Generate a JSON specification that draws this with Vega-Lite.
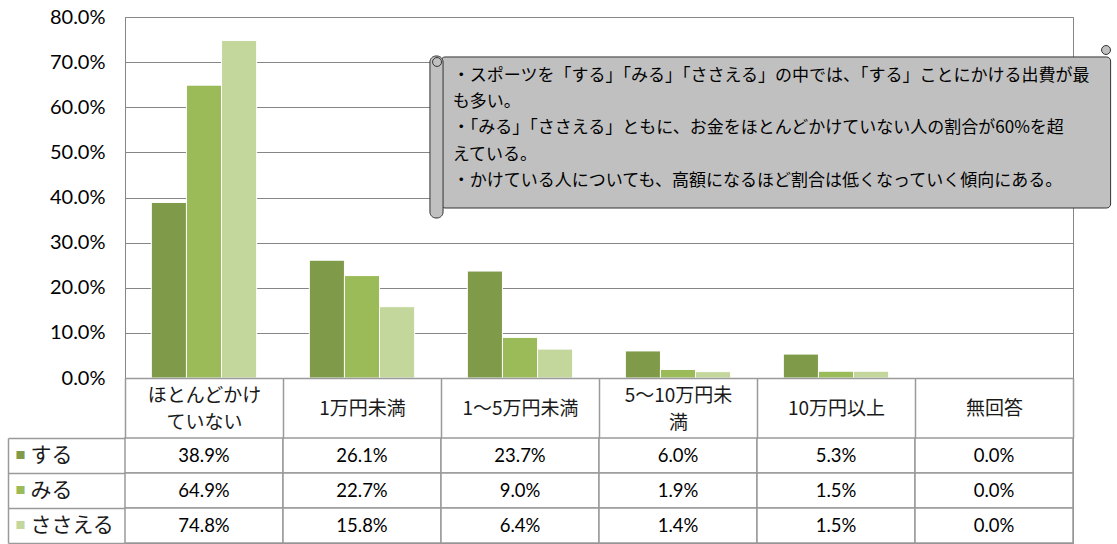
{
  "$schema": "https://vega.github.io/schema/vega-lite/v6.json",
  "padding": {"left": 6, "top": 6, "right": 0, "bottom": 0},
  "background": "white",
  "datasets": {
    "survey": [
      {"category": "ほとんどかけていない", "series": "する", "value": 0.389},
      {"category": "ほとんどかけていない", "series": "みる", "value": 0.649},
      {"category": "ほとんどかけていない", "series": "ささえる", "value": 0.748},
      {"category": "1万円未満", "series": "する", "value": 0.261},
      {"category": "1万円未満", "series": "みる", "value": 0.227},
      {"category": "1万円未満", "series": "ささえる", "value": 0.158},
      {"category": "1～5万円未満", "series": "する", "value": 0.237},
      {"category": "1～5万円未満", "series": "みる", "value": 0.090},
      {"category": "1～5万円未満", "series": "ささえる", "value": 0.064},
      {"category": "5～10万円未満", "series": "する", "value": 0.060},
      {"category": "5～10万円未満", "series": "みる", "value": 0.019},
      {"category": "5～10万円未満", "series": "ささえる", "value": 0.014},
      {"category": "10万円以上", "series": "する", "value": 0.053},
      {"category": "10万円以上", "series": "みる", "value": 0.015},
      {"category": "10万円以上", "series": "ささえる", "value": 0.015},
      {"category": "無回答", "series": "する", "value": 0.0},
      {"category": "無回答", "series": "みる", "value": 0.0},
      {"category": "無回答", "series": "ささえる", "value": 0.0}
    ],
    "note": [
      {"note": "・スポーツを「する」「みる」「ささえる」の中では、「する」ことにかける出費が最\nも多い。\n・「みる」「ささえる」ともに、お金をほとんどかけていない人の割合が60%を超\nえている。\n・かけている人についても、高額になるほど割合は低くなっていく傾向にある。"}
    ]
  },
  "spacing": 60,
  "bounds": "flush",
  "vconcat": [
    {
      "width": 948,
      "height": 361,
      "layer": [
        {
          "data": {"name": "survey"},
          "mark": {"type": "bar", "stroke": "white", "strokeWidth": 1},
          "encoding": {
            "x": {
              "field": "category", "type": "nominal",
              "sort": ["ほとんどかけていない", "1万円未満", "1～5万円未満", "5～10万円未満", "10万円以上", "無回答"],
              "scale": {"paddingInner": 0, "paddingOuter": 0},
              "axis": {
                "title": null, "orient": "bottom", "labelAngle": 0, "zindex": 1,
                "domain": true, "domainColor": "#9A9A9A", "domainWidth": 1.5,
                "ticks": true, "tickBand": "extent", "tickSize": 60, "tickColor": "#9A9A9A", "tickWidth": 1.5,
                "labelFont": "Noto Sans CJK JP", "labelFontSize": 19, "labelColor": "#1A1A1A",
                "labelBaseline": "middle", "labelLineHeight": 27.6,
                "labelPadding": {"condition": {"test": "datum.value === 'ほとんどかけていない' || datum.value === '5～10万円未満'", "value": -43}, "value": -30},
                "labelLimit": 300, "labelOverlap": false,
                "labelExpr": "datum.value === 'ほとんどかけていない' ? ['ほとんどかけ', 'ていない'] : datum.value === '5～10万円未満' ? ['5～10万円未', '満'] : datum.label"
              }
            },
            "xOffset": {
              "field": "series", "type": "nominal", "sort": ["する", "みる", "ささえる"],
              "scale": {"paddingInner": 0, "paddingOuter": 0.75}
            },
            "y": {
              "field": "value", "type": "quantitative",
              "scale": {"domain": [0, 0.8], "nice": false},
              "axis": {
                "title": null, "format": ".1%", "values": [0, 0.1, 0.2, 0.3, 0.4, 0.5, 0.6, 0.7, 0.8],
                "grid": true, "gridColor": "#868686", "gridWidth": 1,
                "domain": true, "domainColor": "#868686", "domainWidth": 1,
                "ticks": false, "labelPadding": 20,
                "labelFont": "Lato", "labelFontSize": 20, "labelColor": "#000000"
              }
            },
            "color": {
              "field": "series", "type": "nominal",
              "scale": {"domain": ["する", "みる", "ささえる"], "range": ["#7F9A48", "#9BBB59", "#C3D69B"]},
              "legend": null
            }
          }
        },
        {
          "data": {"values": [{}]},
          "mark": {"type": "rect", "fill": "#C0C0C0", "stroke": "#333333", "strokeWidth": 1, "cornerRadius": 4},
          "encoding": {
            "x": {"datum": 2.0, "type": "quantitative", "scale": {"domain": [0, 6], "nice": false, "zero": false}, "axis": null},
            "x2": {"datum": 6.238},
            "y": {"datum": 0.7114, "type": "quantitative"},
            "y2": {"datum": 0.3767}
          }
        },
        {
          "data": {"values": [{}]},
          "mark": {"type": "rect", "fill": "#C0C0C0", "stroke": "#333333", "strokeWidth": 1, "cornerRadius": 6},
          "encoding": {
            "x": {"datum": 1.93, "type": "quantitative", "scale": {"domain": [0, 6], "nice": false, "zero": false}, "axis": null},
            "x2": {"datum": 2.013},
            "y": {"datum": 0.7136, "type": "quantitative"},
            "y2": {"datum": 0.3546}
          }
        },
        {
          "data": {"values": [{}]},
          "mark": {"type": "point", "shape": "circle", "filled": true, "fill": "#C0C0C0", "stroke": "#333333", "strokeWidth": 1, "size": 80, "opacity": 1},
          "encoding": {
            "x": {"datum": 1.975, "type": "quantitative", "scale": {"domain": [0, 6], "nice": false, "zero": false}, "axis": null},
            "y": {"datum": 0.7003, "type": "quantitative"}
          }
        },
        {
          "data": {"values": [{}]},
          "mark": {"type": "point", "shape": "circle", "filled": true, "fill": "#C0C0C0", "stroke": "#333333", "strokeWidth": 1, "size": 80, "opacity": 1},
          "encoding": {
            "x": {"datum": 6.209, "type": "quantitative", "scale": {"domain": [0, 6], "nice": false, "zero": false}, "axis": null},
            "y": {"datum": 0.7269, "type": "quantitative"}
          }
        },
        {
          "data": {"name": "note"},
          "mark": {"type": "text", "align": "left", "baseline": "middle", "lineBreak": "\n", "lineHeight": 26.25, "font": "Noto Sans CJK JP", "fontSize": 17, "color": "#000000"},
          "encoding": {
            "x": {"datum": 2.075, "type": "quantitative", "scale": {"domain": [0, 6], "nice": false, "zero": false}, "axis": null},
            "y": {"datum": 0.6693, "type": "quantitative"},
            "text": {"field": "note"}
          }
        }
      ],
      "resolve": {"scale": {"x": "independent"}, "axis": {"x": "independent"}}
    },
    {
      "width": 948,
      "height": 105,
      "data": {"name": "survey"},
      "layer": [
        {
          "mark": {"type": "rect", "fill": "white", "stroke": "#9A9A9A", "strokeWidth": 1.5},
          "encoding": {
            "x": {
              "field": "category", "type": "nominal",
              "sort": ["ほとんどかけていない", "1万円未満", "1～5万円未満", "5～10万円未満", "10万円以上", "無回答"],
              "scale": {"paddingInner": 0, "paddingOuter": 0}, "axis": null
            },
            "y": {
              "field": "series", "type": "nominal", "sort": ["する", "みる", "ささえる"],
              "scale": {"paddingInner": 0, "paddingOuter": 0},
              "axis": {
                "orient": "left", "offset": 117, "title": null,
                "domain": true, "domainColor": "#9A9A9A", "domainWidth": 1.5,
                "ticks": false, "grid": false,
                "labelExpr": "'■'", "labelFont": "Noto Sans CJK JP", "labelFontSize": 10,
                "labelAlign": "left", "labelBaseline": "middle", "labelPadding": -7,
                "labelColor": {"condition": [{"test": "datum.value === 'する'", "value": "#7F9A48"}, {"test": "datum.value === 'みる'", "value": "#9BBB59"}], "value": "#C3D69B"}
              }
            }
          }
        },
        {
          "mark": {"type": "text", "font": "Lato", "fontSize": 18.5, "color": "#000000"},
          "encoding": {
            "x": {
              "field": "category", "type": "nominal",
              "sort": ["ほとんどかけていない", "1万円未満", "1～5万円未満", "5～10万円未満", "10万円以上", "無回答"],
              "axis": null
            },
            "y": {
              "field": "series", "type": "nominal", "sort": ["する", "みる", "ささえる"],
              "axis": {
                "orient": "left", "title": null,
                "domain": false, "grid": false,
                "ticks": true, "tickBand": "extent", "tickSize": 117, "tickColor": "#9A9A9A", "tickWidth": 1.5,
                "labelAlign": "left", "labelBaseline": "middle", "labelPadding": -22,
                "labelFont": "Noto Sans CJK JP", "labelFontSize": 21, "labelColor": "#1A1A1A"
              }
            },
            "text": {"field": "value", "type": "quantitative", "format": ".1%"}
          }
        }
      ],
      "resolve": {"axis": {"y": "independent"}}
    }
  ],
  "config": {
    "view": {"stroke": "#868686"},
    "font": "Noto Sans CJK JP"
  }
}
